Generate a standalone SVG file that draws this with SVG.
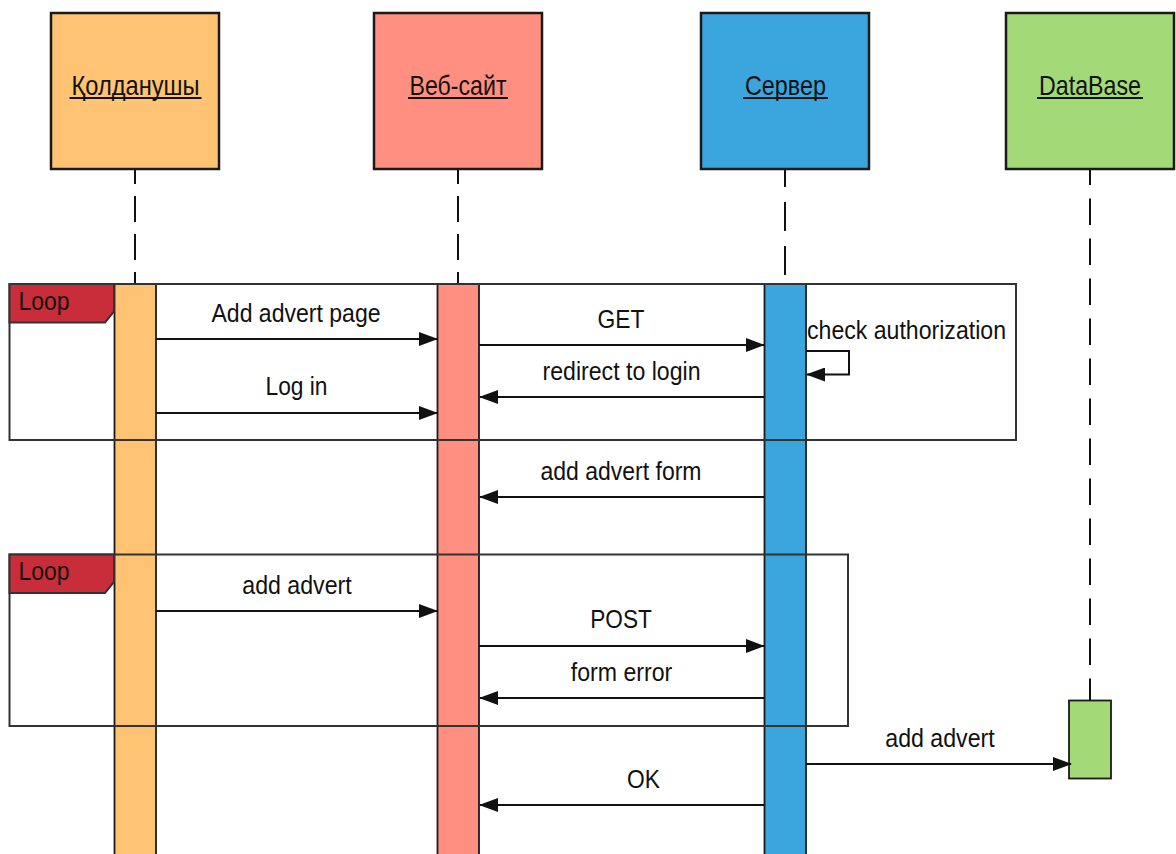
<svg xmlns="http://www.w3.org/2000/svg" width="1176" height="854" viewBox="0 0 1176 854">
<style>
.hdr{stroke:#1a1a1a;stroke-width:2.5}
.t{font-family:"Liberation Sans",Arial,sans-serif;font-size:26.5px;fill:#111;text-anchor:middle}
.ht{font-family:"Liberation Sans",Arial,sans-serif;font-size:28px;fill:#111;text-anchor:middle}
.ul{stroke:#111;stroke-width:2}
.life{stroke:#111;stroke-width:2;fill:none}
.act{stroke:#1a1a1a;stroke-width:1.8}
.frame{fill:none;stroke:#333;stroke-width:2}
.msg{stroke:#111;stroke-width:2;fill:none;marker-end:url(#ah)}
</style>
<defs>
<marker id="ah" markerWidth="19" markerHeight="14" refX="18" refY="7" orient="auto" markerUnits="userSpaceOnUse">
<path d="M0,0 L19,7 L0,14 Z" fill="#111"/>
</marker>
</defs>
<rect width="1176" height="854" fill="#fff"/>

<g id="lifelines">
<line class="life" x1="135" y1="169" x2="135" y2="284" stroke-dasharray="26 12" stroke-dashoffset="11"/>
<line class="life" x1="458" y1="169" x2="458" y2="284" stroke-dasharray="26 12" stroke-dashoffset="11"/>
<line class="life" x1="785" y1="169" x2="785" y2="284" stroke-dasharray="29 15" stroke-dashoffset="11"/>
<line class="life" x1="1090" y1="169" x2="1090" y2="700" stroke-dasharray="26.5 13.5" stroke-dashoffset="10.5"/>
</g>

<g id="user">
<rect class="hdr" x="51" y="13" width="168" height="156" fill="#FFC374"/>
<text class="ht" x="135.5" y="94.5" textLength="128" lengthAdjust="spacingAndGlyphs">Қолданушы</text>
<line class="ul" x1="69.5" y1="98" x2="201.5" y2="98"/>
<rect class="act" x="114.5" y="284" width="41.5" height="580" fill="#FFC374"/>
</g>

<g id="website">
<rect class="hdr" x="374" y="13" width="168" height="156" fill="#FF8F80"/>
<text class="ht" x="458" y="94.5" textLength="97" lengthAdjust="spacingAndGlyphs">Веб-сайт</text>
<line class="ul" x1="408" y1="98" x2="508" y2="98"/>
<rect class="act" x="437.5" y="284" width="41.5" height="580" fill="#FF8F80"/>
</g>

<g id="server">
<rect class="hdr" x="701" y="13" width="168" height="156" fill="#3AA6DD"/>
<text class="ht" x="785.5" y="94.5" textLength="81" lengthAdjust="spacingAndGlyphs">Сервер</text>
<line class="ul" x1="743" y1="98" x2="828" y2="98"/>
<rect class="act" x="764.5" y="284" width="41.5" height="580" fill="#3AA6DD"/>
</g>

<g id="database">
<rect class="hdr" x="1006" y="13" width="168" height="156" fill="#A3D977"/>
<text class="ht" x="1090" y="94.5" textLength="102" lengthAdjust="spacingAndGlyphs">DataBase</text>
<line class="ul" x1="1037" y1="98" x2="1143" y2="98"/>
<rect class="act" x="1069" y="700.5" width="42" height="78" fill="#A3D977"/>
</g>

<g id="loop1">
<rect class="frame" x="9.5" y="284" width="1006.5" height="156"/>
<path d="M9.5,284 H114 V311.5 L105,322.5 H9.5 Z" fill="#C92D39" stroke="#333" stroke-width="2"/>
<text class="t" x="44" y="309.5" style="font-size:26px" textLength="51" lengthAdjust="spacingAndGlyphs">Loop</text>
</g>

<g id="loop2">
<rect class="frame" x="9.5" y="554.5" width="838.5" height="171.5"/>
<path d="M9.5,554.5 H114 V582 L105,593 H9.5 Z" fill="#C92D39" stroke="#333" stroke-width="2"/>
<text class="t" x="44" y="580" style="font-size:26px" textLength="51" lengthAdjust="spacingAndGlyphs">Loop</text>
</g>

<g id="connectors">
<line class="msg" x1="156" y1="339" x2="437" y2="339"/>
<line class="msg" x1="156" y1="413" x2="437" y2="413"/>
<line class="msg" x1="479" y1="345" x2="764" y2="345"/>
<path class="msg" d="M806,351 H849 V374.5 H807"/>
<line class="msg" x1="764" y1="397" x2="480" y2="397"/>
<line class="msg" x1="764" y1="497" x2="480" y2="497"/>
<line class="msg" x1="156" y1="611" x2="437" y2="611"/>
<line class="msg" x1="479" y1="646" x2="764" y2="646"/>
<line class="msg" x1="764" y1="698" x2="480" y2="698"/>
<line class="msg" x1="806" y1="764" x2="1071" y2="764"/>
<line class="msg" x1="764" y1="805" x2="480" y2="805"/>
</g>

<g id="labels">
<text class="t" x="296" y="321.7" textLength="169" lengthAdjust="spacingAndGlyphs">Add advert page</text>
<text class="t" x="296.5" y="395" textLength="62" lengthAdjust="spacingAndGlyphs">Log in</text>
<text class="t" x="621" y="327.5" textLength="47" lengthAdjust="spacingAndGlyphs">GET</text>
<text class="t" x="906.5" y="339.3" textLength="199" lengthAdjust="spacingAndGlyphs">check authorization</text>
<text class="t" x="621.5" y="380" textLength="158" lengthAdjust="spacingAndGlyphs">redirect to login</text>
<text class="t" x="621" y="479.5" textLength="161" lengthAdjust="spacingAndGlyphs">add advert form</text>
<text class="t" x="297" y="593.5" textLength="109.5" lengthAdjust="spacingAndGlyphs">add advert</text>
<text class="t" x="621" y="628.3" textLength="61.5" lengthAdjust="spacingAndGlyphs">POST</text>
<text class="t" x="621.5" y="680.7" textLength="101.5" lengthAdjust="spacingAndGlyphs">form error</text>
<text class="t" x="940" y="746.7" textLength="109.5" lengthAdjust="spacingAndGlyphs">add advert</text>
<text class="t" x="643.5" y="787.5" textLength="33" lengthAdjust="spacingAndGlyphs">OK</text>
</g>
</svg>
